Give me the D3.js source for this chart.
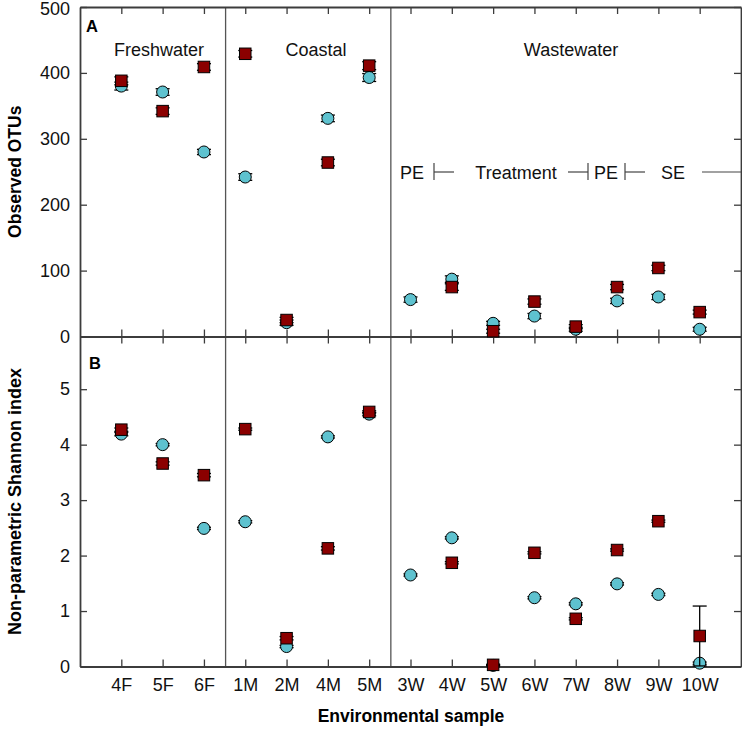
<!DOCTYPE html>
<html>
<head>
<meta charset="utf-8">
<script src="https://cdn.jsdelivr.net/npm/d3@7"></script>
<style>
  html, body { margin: 0; padding: 0; background: #fff; }
  svg { display: block; }
  text { font-family: "Liberation Sans", Arial, sans-serif; }
</style>
</head>
<body>
<svg id="chart" width="742" height="736"></svg>
<script>
// ---------- data ----------
const samples = ["4F","5F","6F","1M","2M","4M","5M","3W","4W","5W","6W","7W","8W","9W","10W"];
const otuCircle    = [380, 371, 280, 242, 21, 331, 393, 56, 87, 20, 31, 11, 54, 60, 11];
const otuCircleErr = [6, 5, 4, 5, 4, 5, 6, 4, 5, 3, 4, 3, 4, 4, 3];
const otuSquare    = [388, 342, 409, 429, 25, 264, 411, null, 75, 8, 53, 15, 75, 104, 37];
const otuSquareErr = [6, 5, 5, 5, 4, 5, 6, null, 5, 3, 4, 3, 4, 4, 3];
const shanCircle    = [4.19, 4.00, 2.49, 2.61, 0.36, 4.14, 4.55, 1.65, 2.32, 0.02, 1.24, 1.13, 1.49, 1.30, 0.06];
const shanCircleErr = [0.03, 0.02, 0.02, 0.02, 0.02, 0.02, 0.03, 0.02, 0.02, 0.01, 0.02, 0.02, 0.02, 0.02, 0.02];
const shanSquare    = [4.27, 3.66, 3.45, 4.28, 0.51, 2.13, 4.59, null, 1.87, 0.03, 2.05, 0.86, 2.10, 2.62, 0.55];
const shanSquareErr = [0.03, 0.03, 0.03, 0.02, 0.03, 0.03, 0.02, null, 0.02, 0.01, 0.02, 0.02, 0.02, 0.02, 0.54];
const otuTicks = [0, 100, 200, 300, 400, 500];
const shanTicks = [0, 1, 2, 3, 4, 5];
const groups = [
  {name: "Freshwater", from: 0, to: 2},
  {name: "Coastal", from: 3, to: 6},
  {name: "Wastewater", from: 7, to: 14}
];
const dividers = [2.5, 6.5];

// ---------- layout ----------
const left = 80, right = 741, topA = 7, botA = 336.5, botB = 666.5;
const axisColor = "#3c3c3c";
const circleFill = "#5ec2cf", squareFill = "#8b0000";

const svg = d3.select("#chart");
const x = d3.scaleLinear().domain([-1, samples.length]).range([left, right]);
const yA = d3.scaleLinear().domain([0, 500]).range([botA, topA]);
const yB = d3.scaleLinear().domain([0, 5.95]).range([botB, botA]);
const idx = d3.range(samples.length);

// dividers
svg.append("g").selectAll("line").data(dividers).join("line")
  .attr("x1", d => x(d) + 1).attr("x2", d => x(d) + 1)
  .attr("y1", topA).attr("y2", botB)
  .attr("stroke", "#555").attr("stroke-width", 1.3);

function styleAxis(g) {
  g.selectAll("path.domain").attr("stroke", axisColor).attr("stroke-width", 1.8);
  g.selectAll(".tick line").attr("stroke", axisColor).attr("stroke-width", 1.3);
  g.selectAll(".tick text").attr("fill", "#111").style("font-size", "18px")
    .style("font-family", "'Liberation Sans', Arial, sans-serif");
}

// x axes
svg.append("g").attr("transform", `translate(0,${topA})`)
  .call(d3.axisTop(x).tickValues(idx).tickSizeInner(-7).tickSizeOuter(0).tickFormat(""))
  .call(styleAxis);
svg.append("g").attr("transform", `translate(0,${botA})`)
  .call(d3.axisBottom(x).tickValues(idx).tickSizeInner(7).tickSizeOuter(0).tickFormat(""))
  .call(styleAxis);
svg.append("g").attr("transform", `translate(0,${botA})`)
  .call(d3.axisTop(x).tickValues(idx).tickSizeInner(7).tickSizeOuter(0).tickFormat(""))
  .call(styleAxis);
svg.append("g").attr("transform", `translate(0,${botB})`)
  .call(d3.axisBottom(x).tickValues(idx).tickSizeInner(-7).tickSizeOuter(0).tickPadding(12)
    .tickFormat(i => samples[i]))
  .call(styleAxis);

// y axes
const gA = svg.append("g").attr("transform", `translate(${left},0)`)
  .call(d3.axisLeft(yA).tickValues(otuTicks).tickSizeInner(-7).tickSizeOuter(0).tickPadding(10)
    .tickFormat(d3.format("d")))
  .call(styleAxis);
gA.selectAll(".tick text").filter(d => d === 500).attr("dy", "0.42em");
svg.append("g").attr("transform", `translate(${right},0)`)
  .call(d3.axisRight(yA).tickValues(otuTicks).tickSizeInner(-7).tickSizeOuter(0).tickFormat(""))
  .call(styleAxis);
svg.append("g").attr("transform", `translate(${left},0)`)
  .call(d3.axisLeft(yB).tickValues(shanTicks).tickSizeInner(-7).tickSizeOuter(0).tickPadding(10)
    .tickFormat(d3.format("d")))
  .call(styleAxis);
svg.append("g").attr("transform", `translate(${right},0)`)
  .call(d3.axisRight(yB).tickValues(shanTicks).tickSizeInner(-7).tickSizeOuter(0).tickFormat(""))
  .call(styleAxis);

// series drawing
function drawSeries(vals, errs, y, shape) {
  const data = idx.filter(i => vals[i] != null).map(i => ({i, v: vals[i], e: errs[i] || 0}));
  const g = svg.append("g");
  const cap = 7;
  const eb = g.selectAll("g.eb").data(data).join("g").attr("class", "eb")
    .attr("stroke", "#000").attr("stroke-width", 1.3);
  eb.append("line").attr("x1", d => x(d.i)).attr("x2", d => x(d.i))
    .attr("y1", d => y(d.v - d.e)).attr("y2", d => y(d.v + d.e));
  eb.append("line").attr("x1", d => x(d.i) - cap).attr("x2", d => x(d.i) + cap)
    .attr("y1", d => y(d.v + d.e)).attr("y2", d => y(d.v + d.e));
  eb.append("line").attr("x1", d => x(d.i) - cap).attr("x2", d => x(d.i) + cap)
    .attr("y1", d => y(d.v - d.e)).attr("y2", d => y(d.v - d.e));
  if (shape === "circle") {
    g.selectAll("circle").data(data).join("circle")
      .attr("cx", d => x(d.i)).attr("cy", d => y(d.v)).attr("r", 6)
      .attr("fill", circleFill).attr("stroke", "#000").attr("stroke-width", 1);
  } else {
    const s = 11.5;
    g.selectAll("rect").data(data).join("rect")
      .attr("x", d => x(d.i) - s / 2).attr("y", d => y(d.v) - s / 2)
      .attr("width", s).attr("height", s)
      .attr("fill", squareFill).attr("stroke", "#000").attr("stroke-width", 1);
  }
}
drawSeries(otuCircle, otuCircleErr, yA, "circle");
drawSeries(otuSquare, otuSquareErr, yA, "square");
drawSeries(shanCircle, shanCircleErr, yB, "circle");
drawSeries(shanSquare, shanSquareErr, yB, "square");

// panel letters
svg.append("text").attr("x", 86).attr("y", 32).text("A")
  .style("font-weight", "bold").style("font-size", "16.5px");
svg.append("text").attr("x", 89).attr("y", 369).text("B")
  .style("font-weight", "bold").style("font-size", "16.5px");

// group labels
const gx = {"Freshwater": 159, "Coastal": 316, "Wastewater": 571};
svg.append("g").selectAll("text").data(groups).join("text")
  .attr("x", d => gx[d.name]).attr("y", 56).attr("text-anchor", "middle")
  .style("font-size", "18px").attr("fill", "#111").text(d => d.name);

// wastewater annotation
const annY = 172;
const ann = svg.append("g").attr("fill", "#111").style("font-size", "18px");
ann.append("text").attr("x", 412).attr("y", annY + 6.5).attr("text-anchor", "middle").text("PE");
ann.append("text").attr("x", 516).attr("y", annY + 6.5).attr("text-anchor", "middle").text("Treatment");
ann.append("text").attr("x", 606).attr("y", annY + 6.5).attr("text-anchor", "middle").text("PE");
ann.append("text").attr("x", 673).attr("y", annY + 6.5).attr("text-anchor", "middle").text("SE");
const annLines = [
  [434, annY - 9, 434, annY + 8], [434, annY, 454, annY],
  [568, annY, 588, annY], [588, annY - 9, 588, annY + 8],
  [625, annY - 9, 625, annY + 8], [625, annY, 645, annY],
  [702, annY, 741, annY]
];
svg.append("g").selectAll("line").data(annLines).join("line")
  .attr("x1", d => d[0]).attr("y1", d => d[1]).attr("x2", d => d[2]).attr("y2", d => d[3])
  .attr("stroke", "#444").attr("stroke-width", 1.2);

// axis titles
svg.append("text").attr("x", 411).attr("y", 722).attr("text-anchor", "middle")
  .style("font-weight", "bold").style("font-size", "17.5px").text("Environmental sample");
svg.append("text").attr("transform", `translate(21,${(topA + botA) / 2}) rotate(-90)`)
  .attr("text-anchor", "middle").style("font-weight", "bold").style("font-size", "17.5px")
  .text("Observed OTUs");
svg.append("text").attr("transform", `translate(21,${(botA + botB) / 2}) rotate(-90)`)
  .attr("text-anchor", "middle").style("font-weight", "bold").style("font-size", "18px")
  .text("Non-parametric Shannon index");
</script>
</body>
</html>
